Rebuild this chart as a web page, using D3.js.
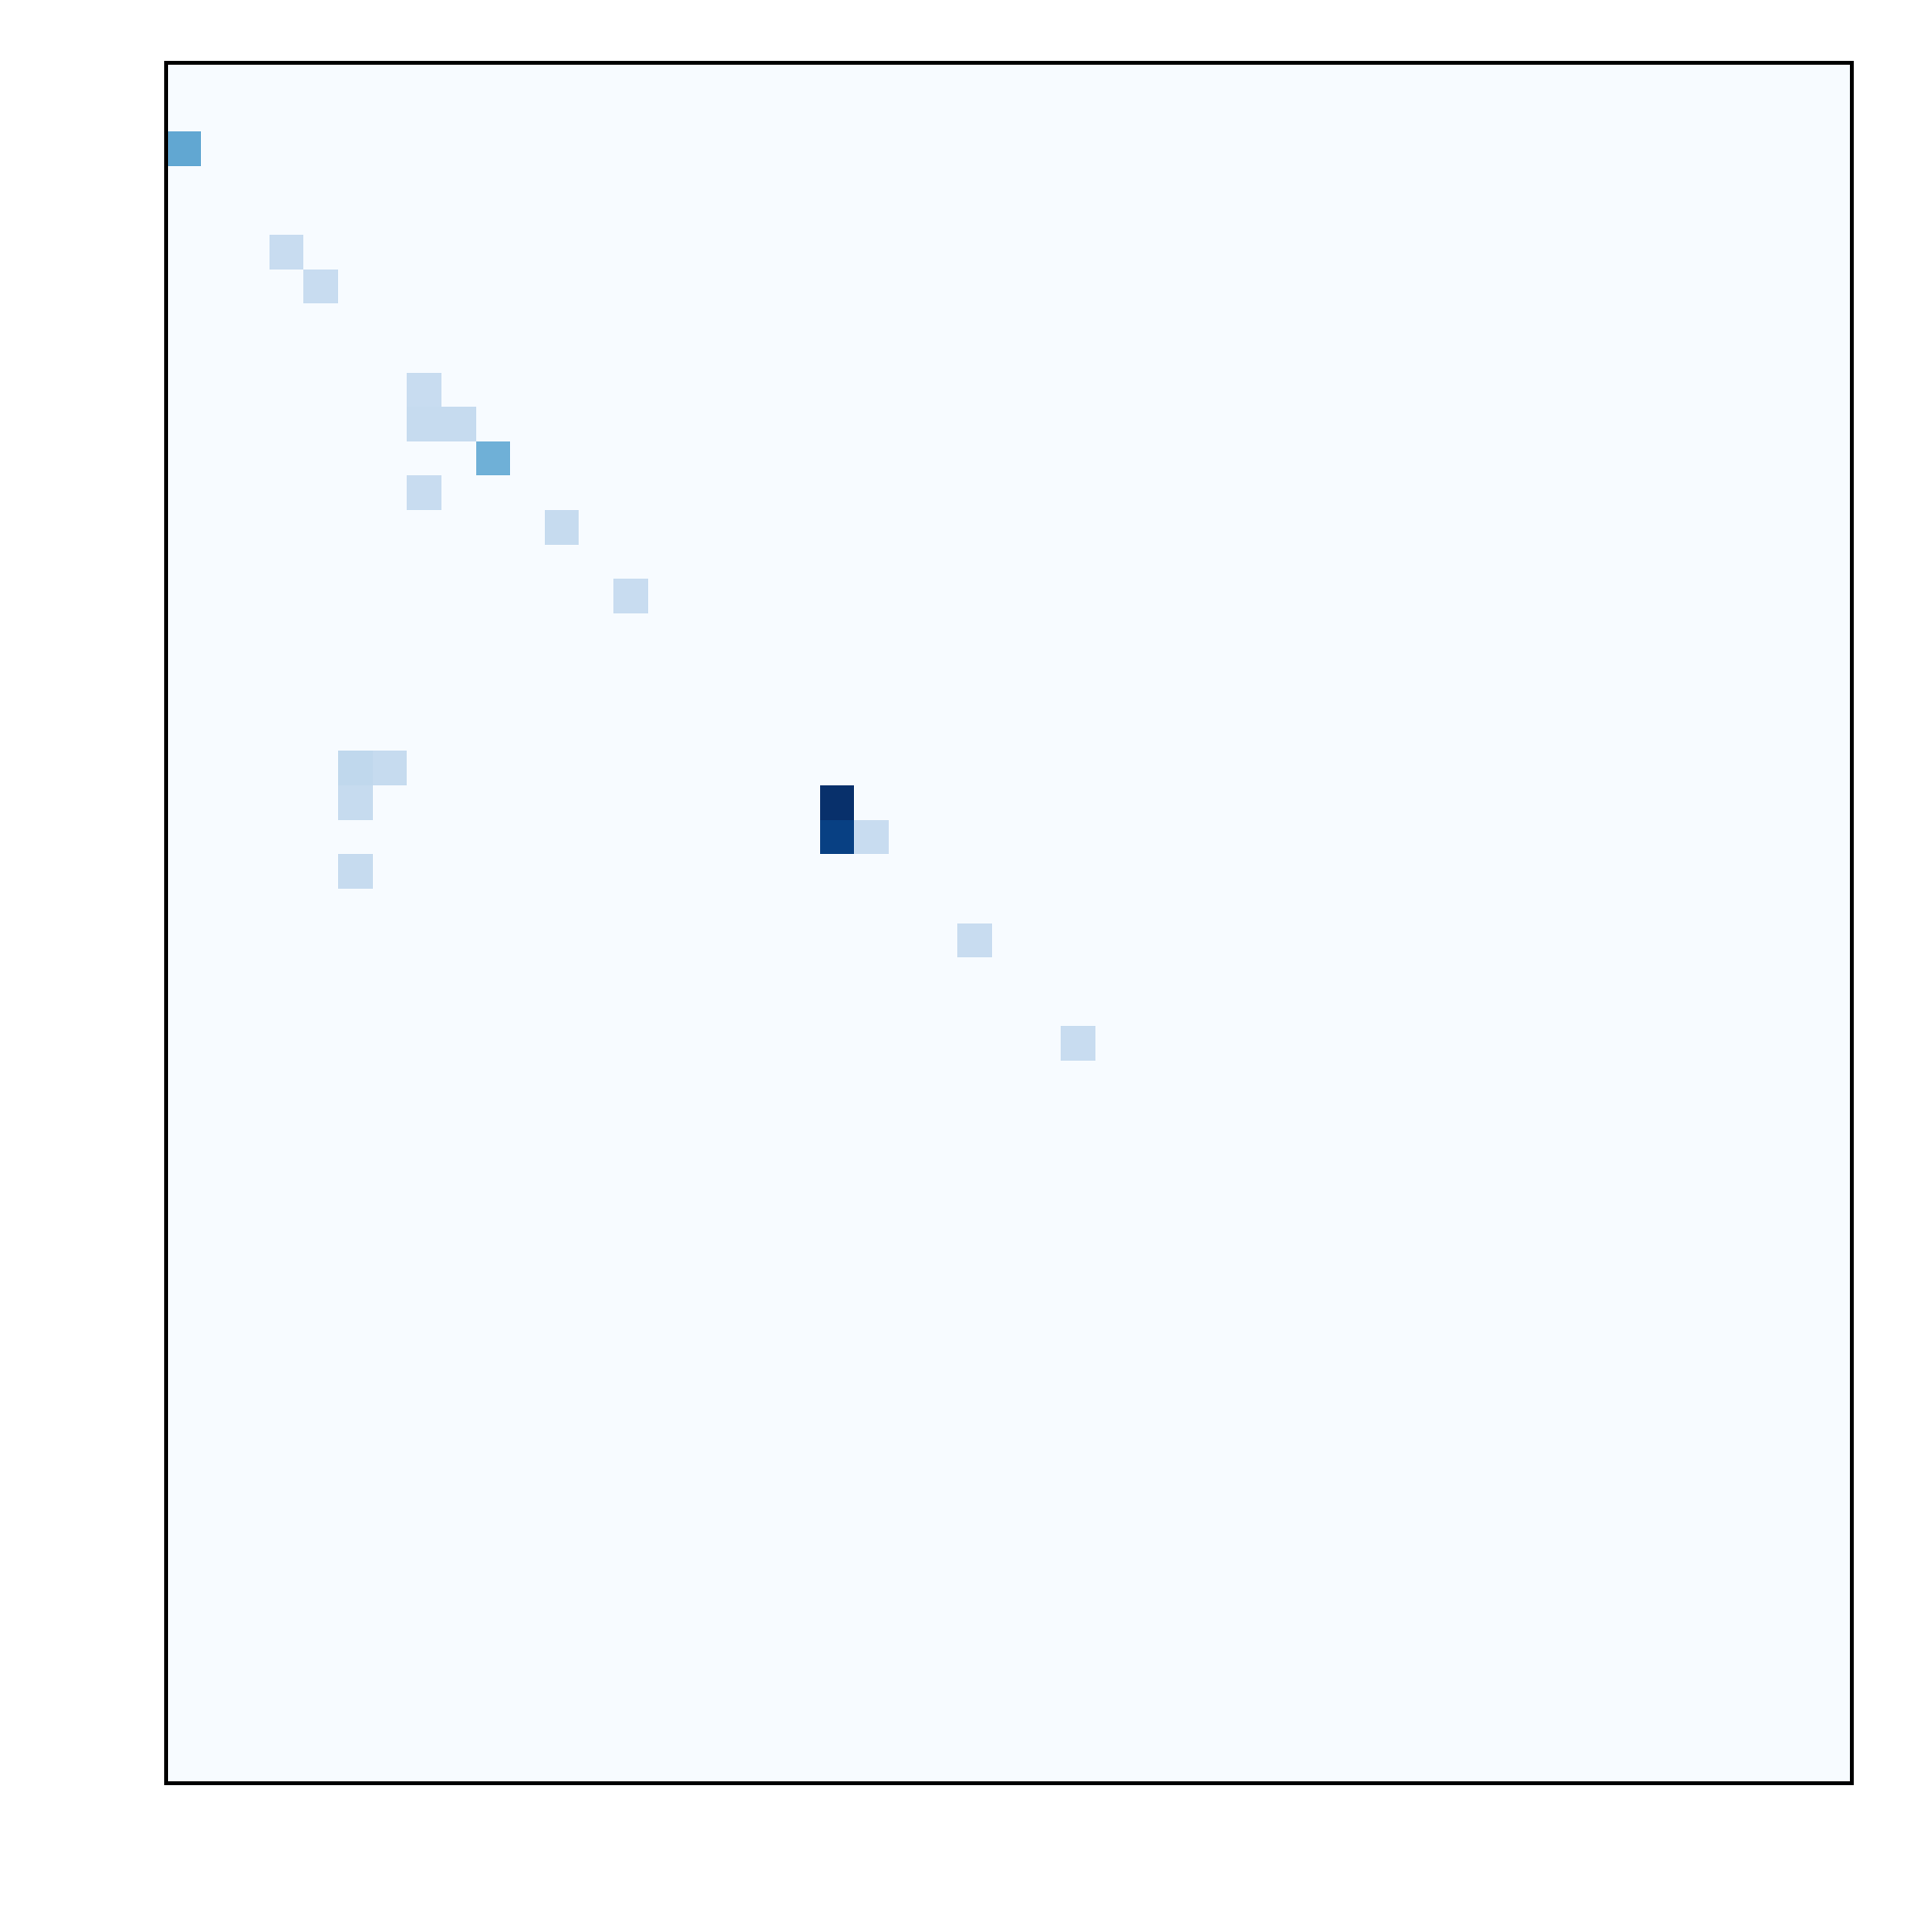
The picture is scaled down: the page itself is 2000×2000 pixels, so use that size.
<!DOCTYPE html>
<html>
<head>
<meta charset="utf-8">
<script src="https://cdn.jsdelivr.net/npm/d3@7"></script>
<style>
  body { margin: 0; background: #fff; }
</style>
</head>
<body>
<div id="heatmap"></div>
<script>
// grid size
var nCols = 49,
    nRows = 50;

// non-zero cells (column, row, value) - everything else is 0
var cellCols = [0, 3, 4, 7, 7, 8, 9, 7, 11, 13, 5, 6, 5, 19, 19, 20, 5, 23, 26];
var cellRows = [2, 5, 6, 9, 10, 10, 11, 12, 13, 15, 20, 20, 21, 21, 22, 22, 23, 25, 28];
var cellValues = [0.53, 0.24, 0.24, 0.24, 0.25, 0.25, 0.49, 0.24, 0.25, 0.24,
                  0.27, 0.25, 0.25, 1.0, 0.94, 0.24, 0.25, 0.24, 0.24];

var margin = { top: 65, right: 83, bottom: 154, left: 172 },
    width = 2000 - margin.left - margin.right,
    height = 2000 - margin.top - margin.bottom;

var svg = d3.select("#heatmap")
  .append("svg")
    .attr("width", 2000)
    .attr("height", 2000)
  .append("g")
    .attr("transform", "translate(" + margin.left + "," + margin.top + ")");

// build full matrix from the arrays
var grid = [];
for (var r = 0; r < nRows; r++) {
  for (var c = 0; c < nCols; c++) {
    grid.push({ col: c, row: r, value: 0 });
  }
}
cellCols.forEach(function(c, i) {
  grid[cellRows[i] * nCols + c].value = cellValues[i];
});

var x = d3.scaleBand()
  .domain(d3.range(nCols))
  .range([0, width]);

var y = d3.scaleBand()
  .domain(d3.range(nRows))
  .range([0, height]);

// matplotlib-style Blues
var blues = ["#f7fbff", "#deebf7", "#c6dbef", "#9ecae1", "#6baed6",
             "#4292c6", "#2171b5", "#08519c", "#08306b"];
var color = d3.scaleLinear()
  .domain(d3.range(blues.length).map(function(i) { return i / (blues.length - 1); }))
  .range(blues)
  .interpolate(d3.interpolateRgb);

svg.selectAll("rect.cell")
  .data(grid)
  .enter()
  .append("rect")
    .attr("class", "cell")
    .attr("x", function(d) { return x(d.col); })
    .attr("y", function(d) { return y(d.row); })
    .attr("width", x.bandwidth() + 0.5)
    .attr("height", y.bandwidth() + 0.5)
    .attr("fill", function(d) { return color(d.value); })
    .attr("shape-rendering", "crispEdges");

// frame
svg.append("rect")
  .attr("x", 0)
  .attr("y", 0)
  .attr("width", width)
  .attr("height", height)
  .attr("fill", "none")
  .attr("stroke", "#000")
  .attr("stroke-width", 4);
</script>
</body>
</html>
